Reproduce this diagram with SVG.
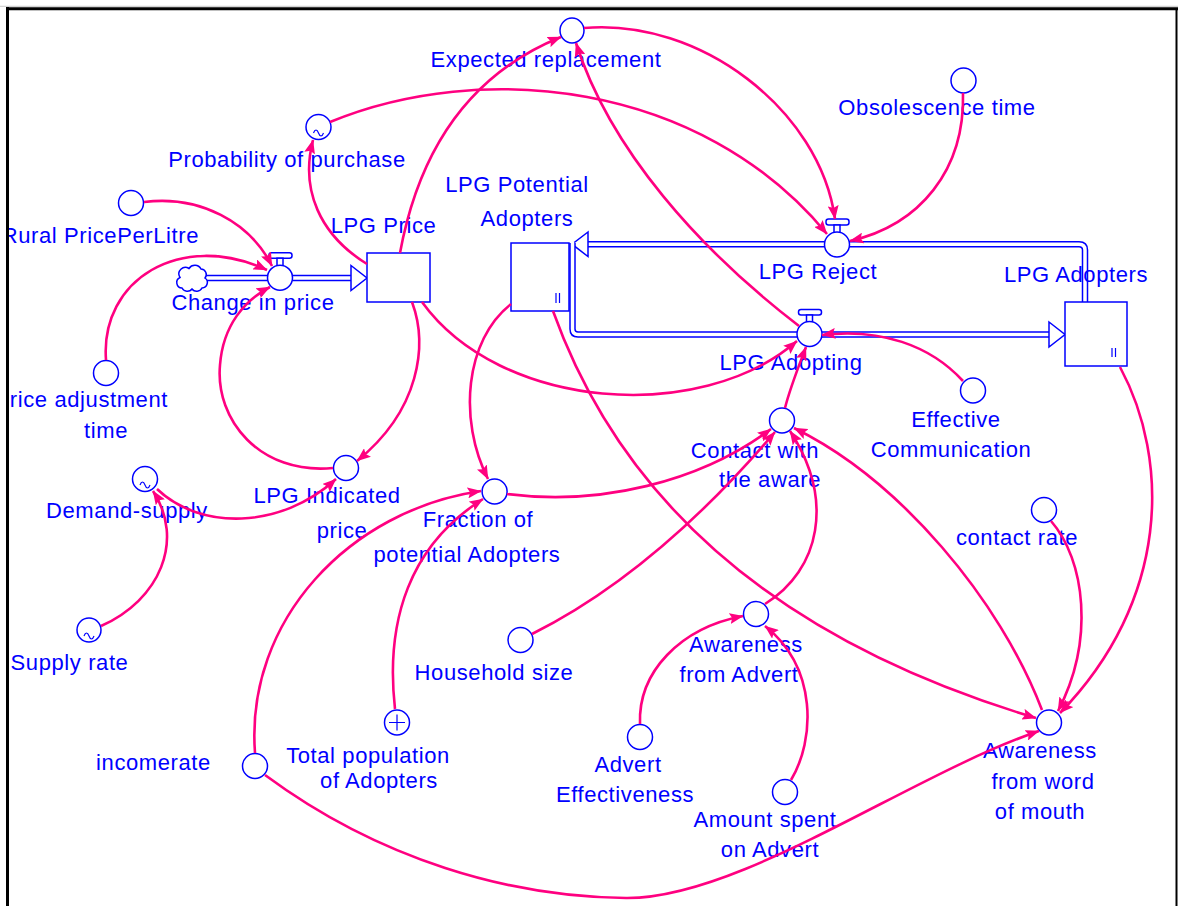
<svg xmlns="http://www.w3.org/2000/svg" width="1178" height="906" viewBox="0 0 1178 906">
  <style>
    .lbl{font-family:"Liberation Sans",Arial,sans-serif;font-size:22px;fill:#0000ff;text-anchor:middle;letter-spacing:0.6px}
    .end{text-anchor:end}
    .aux{fill:#fff;stroke:#0000ff;stroke-width:1.5}
    .glyph{fill:none;stroke:#0000ff;stroke-width:1.2}
    .link{fill:none;stroke:#ff0080;stroke-width:2.6;marker-end:url(#ah)}
    .pipe-o{fill:none;stroke:#0000ff;stroke-width:6.5;stroke-linejoin:round}
    .pipe-i{fill:none;stroke:#fff;stroke-width:3.5;stroke-linejoin:round}
    .head{fill:#fff;stroke:#0000ff;stroke-width:1.5;stroke-linejoin:miter}
  </style>
  <defs>
    <marker id="ah" viewBox="0 0 14 11" refX="13.5" refY="5.5" markerWidth="14" markerHeight="11" markerUnits="userSpaceOnUse" orient="auto">
      <path d="M0,0 L14,5.5 L0,11 L2.5,5.5 z" fill="#ff0080"/>
    </marker>
  </defs>

  <rect width="1178" height="906" fill="#fff"/>

  <!-- material flows (pipes) -->
  <g id="flows">
    <!-- Change in price: cloud to LPG Price -->
    <path class="pipe-o" d="M205,278 H352"/>
    <path class="pipe-i" d="M204,278 H353"/>
    <path class="head" d="M351,265.5 L367,278 L351,290.5 z"/>
    <!-- LPG Reject: LPG Adopters back to LPG Potential Adopters -->
    <path class="pipe-o" d="M1085,302 V250 Q1085,244.2 1079,244.2 H587"/>
    <path class="pipe-i" d="M1085,303 V250 Q1085,244.2 1079,244.2 H586"/>
    <path class="head" d="M588,232 L572,244.2 L588,256.5 z"/>
    <!-- LPG Adopting: LPG Potential Adopters to LPG Adopters -->
    <path class="pipe-o" d="M572.5,243 V329 Q572.5,334.5 578,334.5 H1050"/>
    <path class="pipe-i" d="M572.5,242 V329 Q572.5,334.5 578,334.5 H1051"/>
    <path class="head" d="M1049,322 L1065,334.5 L1049,347 z"/>
  </g>

  <!-- stocks -->
  <g id="lpg-price">
    <rect x="367" y="253" width="63" height="49" class="aux"/>
    <text class="lbl" x="383.5" y="233">LPG Price</text>
  </g>
  <g id="lpg-potential-adopters">
    <rect x="511" y="243" width="58" height="68" class="aux"/>
    <path class="glyph" d="M556,293 V303 M559.5,293 V303"/>
    <text class="lbl" x="517" y="192">LPG Potential</text>
    <text class="lbl" x="527" y="226">Adopters</text>
  </g>
  <g id="lpg-adopters">
    <rect x="1065" y="302" width="62" height="64" class="aux"/>
    <path class="glyph" d="M1112,348 V357 M1115.5,348 V357"/>
    <text class="lbl" x="1076" y="282">LPG Adopters</text>
  </g>

  <!-- source cloud -->
  <g id="price-source">
    <path class="aux" d="M182,288 A5.5,5.5 0 0 1 180,277.5 A6.5,6.5 0 0 1 189,268.5 A7,7 0 0 1 201,269 A5.5,5.5 0 0 1 205,278 A5.5,5.5 0 0 1 202,288 A6,6 0 0 1 192,289 A6,6 0 0 1 182,288 z"/>
  </g>

  <!-- rates (valves) -->
  <g id="change-in-price">
    <rect x="269" y="252.7" width="23" height="5.5" rx="2.5" class="aux"/>
    <rect x="277" y="258.2" width="6" height="8" class="aux"/>
    <circle cx="280" cy="277.7" r="12.5" class="aux"/>
    <text class="lbl" x="253" y="310">Change in price</text>
  </g>
  <g id="lpg-reject">
    <rect x="826" y="219" width="23" height="6" rx="2.5" class="aux"/>
    <rect x="834" y="225" width="6" height="8" class="aux"/>
    <circle cx="837" cy="244.5" r="12.5" class="aux"/>
    <text class="lbl" x="818" y="279">LPG Reject</text>
  </g>
  <g id="lpg-adopting">
    <rect x="798.5" y="309.5" width="23" height="5.5" rx="2.5" class="aux"/>
    <rect x="806.5" y="315" width="6" height="8" class="aux"/>
    <circle cx="809.5" cy="334" r="12.5" class="aux"/>
    <text class="lbl" x="791" y="370">LPG Adopting</text>
  </g>

  <!-- auxiliaries -->
  <g id="expected-replacement">
    <ellipse cx="572" cy="30.5" rx="12" ry="12.5" class="aux"/>
    <text class="lbl" x="546" y="67">Expected replacement</text>
  </g>
  <g id="obsolescence-time">
    <ellipse cx="963.5" cy="80.5" rx="12.5" ry="12.5" class="aux"/>
    <text class="lbl" x="937" y="115">Obsolescence time</text>
  </g>
  <g id="probability-of-purchase">
    <circle cx="318.5" cy="127" r="12.5" class="aux"/>
    <path class="glyph" d="M313.5,133 c1.5,-4 3.5,-4 5,0 s3.5,4 5,0"/>
    <text class="lbl" x="287" y="167">Probability of purchase</text>
  </g>
  <g id="rural-price-per-litre">
    <circle cx="131" cy="203" r="12.5" class="aux"/>
    <text class="lbl end" x="199" y="243">Rural PricePerLitre</text>
  </g>
  <g id="price-adjustment-time">
    <circle cx="106" cy="373" r="12.5" class="aux"/>
    <text class="lbl end" x="168" y="407">Price adjustment</text>
    <text class="lbl" x="106" y="438">time</text>
  </g>
  <g id="demand-supply">
    <circle cx="145" cy="479" r="12.5" class="aux"/>
    <path class="glyph" d="M140,485 c1.5,-4 3.5,-4 5,0 s3.5,4 5,0"/>
    <text class="lbl" x="127" y="518">Demand-supply</text>
  </g>
  <g id="supply-rate">
    <circle cx="89" cy="630" r="12" class="aux"/>
    <path class="glyph" d="M84,636 c1.5,-4 3.5,-4 5,0 s3.5,4 5,0"/>
    <text class="lbl" x="69.5" y="670">Supply rate</text>
  </g>
  <g id="lpg-indicated-price">
    <circle cx="346" cy="468" r="12.5" class="aux"/>
    <text class="lbl" x="327" y="503">LPG Indicated</text>
    <text class="lbl" x="342" y="538">price</text>
  </g>
  <g id="effective-communication">
    <circle cx="973" cy="390.5" r="12.5" class="aux"/>
    <text class="lbl" x="956" y="427">Effective</text>
    <text class="lbl" x="951" y="457">Communication</text>
  </g>
  <g id="contact-with-the-aware">
    <circle cx="782" cy="420.5" r="12.5" class="aux"/>
    <text class="lbl" x="755" y="458">Contact with</text>
    <text class="lbl" x="770" y="487">the aware</text>
  </g>
  <g id="fraction-of-potential-adopters">
    <circle cx="494.6" cy="491.5" r="12.5" class="aux"/>
    <text class="lbl" x="478" y="527">Fraction of</text>
    <text class="lbl" x="467" y="562">potential Adopters</text>
  </g>
  <g id="contact-rate">
    <circle cx="1044" cy="510" r="12.5" class="aux"/>
    <text class="lbl" x="1017" y="545">contact rate</text>
  </g>
  <g id="household-size">
    <circle cx="520.5" cy="640" r="12.5" class="aux"/>
    <text class="lbl" x="494" y="680">Household size</text>
  </g>
  <g id="awareness-from-advert">
    <circle cx="756" cy="614" r="12.5" class="aux"/>
    <text class="lbl" x="746" y="652">Awareness</text>
    <text class="lbl" x="739" y="682">from Advert</text>
  </g>
  <g id="advert-effectiveness">
    <circle cx="640" cy="737" r="12.5" class="aux"/>
    <text class="lbl" x="628" y="772">Advert</text>
    <text class="lbl" x="625" y="802">Effectiveness</text>
  </g>
  <g id="amount-spent-on-advert">
    <circle cx="785" cy="792" r="12.5" class="aux"/>
    <text class="lbl" x="765" y="827">Amount spent</text>
    <text class="lbl" x="770" y="857">on Advert</text>
  </g>
  <g id="awareness-from-word-of-mouth">
    <circle cx="1049" cy="722.5" r="12.5" class="aux"/>
    <text class="lbl" x="1040" y="758">Awareness</text>
    <text class="lbl" x="1043" y="789">from word</text>
    <text class="lbl" x="1040" y="819">of mouth</text>
  </g>
  <g id="total-population-of-adopters">
    <circle cx="397" cy="722.5" r="12.5" class="aux"/>
    <path class="glyph" d="M389,722.5 H405 M397,714.5 V730.5"/>
    <text class="lbl" x="368" y="763">Total population</text>
    <text class="lbl" x="379" y="788">of Adopters</text>
  </g>
  <g id="incomerate">
    <circle cx="255" cy="766" r="12.5" class="aux"/>
    <text class="lbl" x="153.5" y="770">incomerate</text>
  </g>

  <!-- information links -->
  <g id="connectors">
    <path class="link" d="M400,253 Q430,90 561,37"/>
    <path class="link" d="M584,28 C700,18 820,110 835,219"/>
    <path class="link" d="M799,326 C700,250 610,150 576,43"/>
    <path class="link" d="M330,122 C480,60 700,80 827,234"/>
    <path class="link" d="M367,264 C320,235 300,190 313,140"/>
    <path class="link" d="M963,93 C965,170 920,225 850,241"/>
    <path class="link" d="M144,202 C200,195 250,222 272,266"/>
    <path class="link" d="M106,360 C100,280 180,230 267,270"/>
    <path class="link" d="M333,468 C260,475 215,420 220,365 C223,325 245,300 270,287"/>
    <path class="link" d="M412,302 C428,345 420,410 357,461"/>
    <path class="link" d="M422,302 C500,410 700,425 797,341"/>
    <path class="link" d="M963,381 C930,345 880,328 822,335"/>
    <path class="link" d="M785,408 C790,388 798,368 806,347"/>
    <path class="link" d="M511,304 C465,340 458,420 488,479"/>
    <path class="link" d="M507,494 C600,506 700,482 771,429"/>
    <path class="link" d="M532,634 C620,590 700,520 775,432"/>
    <path class="link" d="M765,604 C820,570 835,500 790,431"/>
    <path class="link" d="M1042,710 C1000,600 900,480 794,428"/>
    <path class="link" d="M553,311 C610,470 740,630 1036,718"/>
    <path class="link" d="M1051,521 C1085,560 1095,640 1058,711"/>
    <path class="link" d="M1120,367 C1170,460 1170,600 1060,713"/>
    <path class="link" d="M265,775 C380,860 510,897 626,898 C740,899 910,775 1039,731"/>
    <path class="link" d="M395,709 C385,620 410,545 483,499"/>
    <path class="link" d="M255,753 C245,620 350,510 481,491"/>
    <path class="link" d="M101,626 C160,600 185,540 153,491"/>
    <path class="link" d="M157,489 C200,530 280,530 336,479"/>
    <path class="link" d="M640,724 C638,672 680,628 743,616"/>
    <path class="link" d="M791,780 C815,740 818,668 765,626"/>
  </g>

  <!-- window frame -->
  <rect x="0" y="0" width="6" height="906" fill="#fff"/>
  <rect x="0" y="0" width="1178" height="7" fill="#fff"/>
  <line x1="0" y1="6.3" x2="1178" y2="6.3" stroke="#c8c8c8" stroke-width="1"/>
  <line x1="7.5" y1="7" x2="7.5" y2="906" stroke="#000" stroke-width="3"/>
  <line x1="6" y1="8.7" x2="1178" y2="8.7" stroke="#000" stroke-width="3"/>
  <line x1="1176.5" y1="8" x2="1176.5" y2="906" stroke="#000" stroke-width="2"/>
</svg>
